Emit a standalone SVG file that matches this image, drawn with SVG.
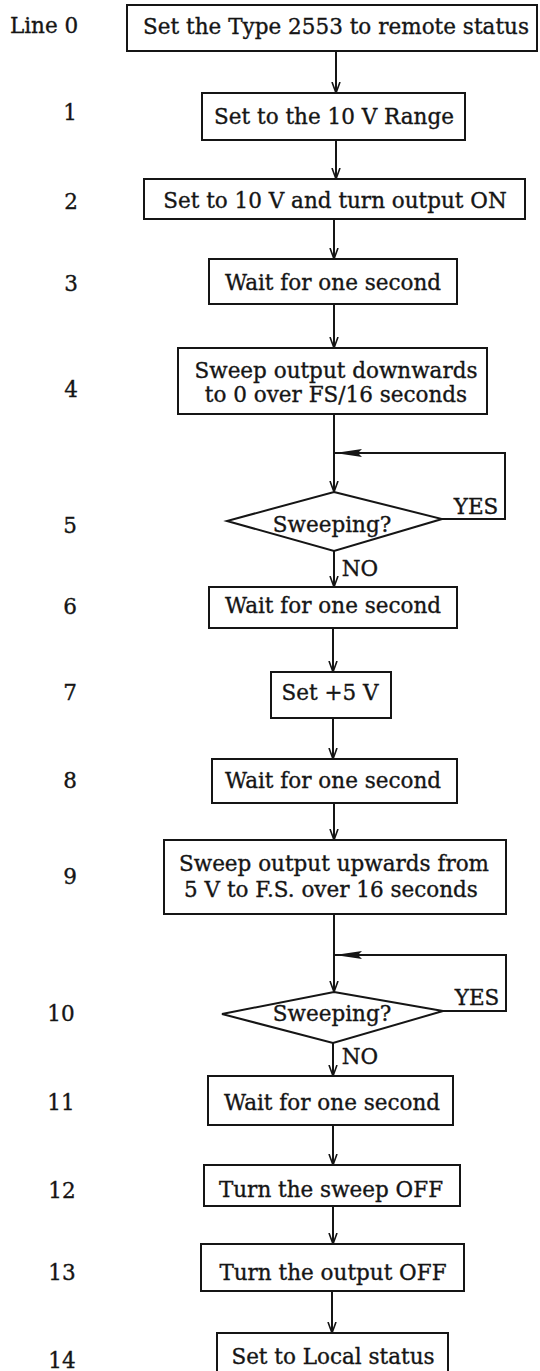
<svg xmlns="http://www.w3.org/2000/svg" width="540" height="1371" viewBox="0 0 540 1371">
<style>
.bx{fill:#fff;stroke:#151515;stroke-width:2}
.t{font-family:"DejaVu Serif","Liberation Serif",serif;font-size:21.5px;fill:#151515;stroke:#151515;stroke-width:0.35;text-anchor:middle}
.n{font-family:"DejaVu Serif","Liberation Serif",serif;font-size:21.5px;fill:#151515;stroke:#151515;stroke-width:0.35;text-anchor:middle}
.ca{fill:none;stroke:#151515;stroke-width:2;marker-end:url(#open)}
.cl{fill:none;stroke:#151515;stroke-width:2;marker-end:url(#solid)}
</style>
<defs>
<marker id="open" viewBox="0 0 12 10" refX="11" refY="5" markerWidth="12" markerHeight="10" markerUnits="userSpaceOnUse" orient="auto">
<path d="M0,1 L11,5 L0,9" fill="none" stroke="#151515" stroke-width="1.6"/>
</marker>
<marker id="solid" viewBox="0 0 28 9" refX="27" refY="4.5" markerWidth="28" markerHeight="9" markerUnits="userSpaceOnUse" orient="auto">
<path d="M0,0.5 L27,4.5 L0,8.5 L4,4.5 Z" fill="#151515"/>
</marker>
</defs>
<rect width="540" height="1371" fill="#fff"/>
<g id="labels">
<text class="n" x="44" y="33">Line 0</text>
<text class="n" x="70" y="120">1</text>
<text class="n" x="71" y="209">2</text>
<text class="n" x="71" y="291">3</text>
<text class="n" x="71" y="397">4</text>
<text class="n" x="70" y="533">5</text>
<text class="n" x="70" y="614">6</text>
<text class="n" x="70" y="700">7</text>
<text class="n" x="70" y="788">8</text>
<text class="n" x="70" y="884">9</text>
<text class="n" x="61" y="1021">10</text>
<text class="n" x="61" y="1110">11</text>
<text class="n" x="62" y="1198">12</text>
<text class="n" x="62" y="1280">13</text>
<text class="n" x="62" y="1368">14</text>
</g>
<g id="connectors">
<path class="ca" d="M336,51 V93"/>
<path class="ca" d="M336,140 V179"/>
<path class="ca" d="M334,219 V259"/>
<path class="ca" d="M334,304 V348"/>
<path class="ca" d="M334,414 V492"/>
<path class="cl" d="M442,519 H505 V453 H335"/>
<path class="ca" d="M334,551 V587"/>
<path class="ca" d="M333,628 V672"/>
<path class="ca" d="M333,718 V759"/>
<path class="ca" d="M334,803 V840"/>
<path class="ca" d="M334,914 V992"/>
<path class="cl" d="M443,1011 H506 V955 H335"/>
<path class="ca" d="M333,1043 V1076"/>
<path class="ca" d="M333,1125 V1165"/>
<path class="ca" d="M333,1206 V1244"/>
<path class="ca" d="M332,1291 V1333"/>
<text class="t" x="476" y="514">YES</text>
<text class="t" x="360" y="576">NO</text>
<text class="t" x="477" y="1005">YES</text>
<text class="t" x="360" y="1064">NO</text>
</g>
<g id="n0"><rect class="bx" x="127" y="5" width="410" height="46"/><text class="t" x="336" y="34" textLength="386" lengthAdjust="spacing">Set the Type 2553 to remote status</text></g>
<g id="n1"><rect class="bx" x="202" y="93" width="263" height="47"/><text class="t" x="334" y="124">Set to the 10 V Range</text></g>
<g id="n2"><rect class="bx" x="144" y="179" width="381" height="40"/><text class="t" x="335" y="208">Set to 10 V and turn output ON</text></g>
<g id="n3"><rect class="bx" x="209" y="259" width="248" height="45"/><text class="t" x="333" y="290">Wait for one second</text></g>
<g id="n4"><rect class="bx" x="178" y="348" width="309" height="66"/><text class="t" x="336" y="378">Sweep output downwards</text><text class="t" x="336" y="402">to 0 over FS/16 seconds</text></g>
<g id="n5"><polygon class="bx" points="334,492 442,519 334,551 227,521"/><text class="t" x="332" y="532">Sweeping?</text></g>
<g id="n6"><rect class="bx" x="209" y="587" width="248" height="41"/><text class="t" x="333" y="613">Wait for one second</text></g>
<g id="n7"><rect class="bx" x="271" y="672" width="120" height="46"/><text class="t" x="330" y="700">Set +5 V</text></g>
<g id="n8"><rect class="bx" x="212" y="759" width="245" height="44"/><text class="t" x="333" y="788">Wait for one second</text></g>
<g id="n9"><rect class="bx" x="164" y="840" width="342" height="74"/><text class="t" x="334" y="871">Sweep output upwards from</text><text class="t" x="331" y="897">5 V to F.S. over 16 seconds</text></g>
<g id="n10"><polygon class="bx" points="334,992 443,1011 333,1043 222,1014"/><text class="t" x="332" y="1021">Sweeping?</text></g>
<g id="n11"><rect class="bx" x="208" y="1076" width="245" height="49"/><text class="t" x="332" y="1110">Wait for one second</text></g>
<g id="n12"><rect class="bx" x="204" y="1165" width="256" height="41"/><text class="t" x="331" y="1197">Turn the sweep OFF</text></g>
<g id="n13"><rect class="bx" x="201" y="1244" width="263" height="47"/><text class="t" x="333" y="1280">Turn the output OFF</text></g>
<g id="n14"><rect class="bx" x="217" y="1333" width="231" height="50"/><text class="t" x="333" y="1364">Set to Local status</text></g>
</svg>
